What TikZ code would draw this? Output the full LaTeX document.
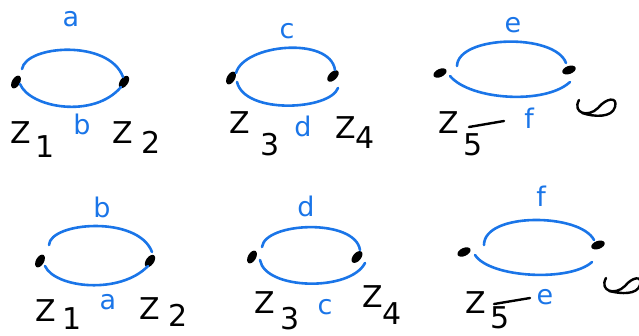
\documentclass[tikz,border=0pt]{standalone}
\usepackage{fontspec}
\setmainfont{DejaVu Sans}
\usetikzlibrary{shapes.geometric,calc}
\definecolor{pen}{HTML}{1A75E8}
\tikzset{
  dot/.style={ellipse, fill=black, minimum width=14pt, minimum height=8pt, inner sep=0pt},
  arc/.style={pen, line width=2.6pt, line cap=round},
  lab/.style={pen, font=\fontsize{27}{27}\selectfont, inner sep=0pt},
  zlab/.style={black, font=\fontsize{30}{30}\selectfont, inner sep=0pt, anchor=base west},
  ink/.style={black, line width=2.4pt, line cap=round, line join=round},
}
% Z with a lowered index: #1 gap, #2 drop, #3 digit
\newcommand{\zsub}[3]{Z\kern#1pt\raisebox{-#2pt}{#3}}
\begin{document}
\begin{tikzpicture}[x=1pt,y=1pt]
\useasboundingbox (0,0) rectangle (639,-335);
% ---------- top row ----------
% panel 1
\node[dot, rotate=60] (p1l) at (16,-82) {};
\node[dot, rotate=55] (p1r) at (124,-82) {};
\draw[arc] ($(p1l)+(6,13)$) .. controls +(4,24) and +(-14,38) .. ($(p1r)+(-1,5)$);
\draw[arc] ($(p1l)+(4,-2)$) .. controls +(10,-24) and +(-27,-32) .. ($(p1r)+(-3,-5)$);
\node[lab] (la1) at (71,-19) {a};
\node[lab] (lb1) at (82,-124) {b};
\node[zlab] (z1) at (10,-143) {\zsub{5}{14}{1}};
\node[zlab] (z2) at (112,-143) {\zsub{9}{10}{2}};
% panel 2
\node[dot, rotate=60] (p2l) at (231,-78) {};
\node[dot, rotate=45] (p2r) at (333,-76) {};
\draw[arc] ($(p2l)+(5,5)$) .. controls +(8,29) and +(-5,34) .. ($(p2r)+(2,6)$);
\draw[arc] ($(p2l)+(6,-4)$) .. controls +(8,-33) and +(-8,-22) .. ($(p2r)+(5,-12)$);
\node[lab] (lc2) at (287,-31) {c};
\node[lab] (ld2) at (303,-126) {d};
\node[zlab] (z3) at (229,-133) {\zsub{11}{22}{3}};
\node[zlab] (z4) at (335,-138) {\zsub{0}{10}{4}};
% panel 3
\node[dot, rotate=25] (p3l) at (440,-73) {};
\node[dot, rotate=20] (p3r) at (569,-70) {};
\draw[arc] ($(p3l)+(17,7)$) .. controls +(1,31) and +(-11,30) .. ($(p3r)+(-3,7)$);
\draw[arc] ($(p3l)+(10,-3)$) .. controls +(20,-24) and +(-25,-23) .. ($(p3r)+(1,-12)$);
\node[lab] (le3) at (513,-25) {e};
\node[lab] (lf3) at (529,-118) {f};
\node[zlab] (z5) at (438,-133) {\zsub{5}{22}{5}};
\coordinate (t3a) at (469,-127);
\coordinate (t3b) at (504,-121);
\draw[ink] (t3a) -- (t3b);
\draw[ink] (579,-100) .. controls (572,-113) and (588,-118) .. (598,-108)
  .. controls (606,-98) and (618,-96) .. (615,-107)
  .. controls (612,-118) and (594,-117) .. (582,-113);
% ---------- bottom row ----------
% panel 4
\node[dot, rotate=60] (p4l) at (40,-261) {};
\node[dot, rotate=55] (p4r) at (150,-261) {};
\draw[arc] ($(p4l)+(9,16)$) .. controls +(1,23) and +(-14,37) .. ($(p4r)+(2,9)$);
\draw[arc] ($(p4l)+(5,-5)$) .. controls +(10,-22) and +(-28,-29) .. ($(p4r)+(-2,-5)$);
\node[lab] (lb4) at (102,-207) {b};
\node[lab] (la4) at (108,-302) {a};
\node[zlab] (z6) at (35,-321) {\zsub{7}{8}{1}};
\node[zlab] (z7) at (139,-319) {\zsub{9}{7}{2}};
% panel 5
\node[dot, rotate=60] (p5l) at (252,-257) {};
\node[dot, rotate=50] (p5r) at (357,-257) {};
\draw[arc] ($(p5l)+(10,10)$) .. controls +(3,25) and +(-5,32) .. ($(p5r)+(3,7)$);
\draw[arc] ($(p5l)+(8,-3)$) .. controls +(5,-30) and +(-15,-29) .. ($(p5r)+(8,-6)$);
\node[lab] (ld5) at (306,-206) {d};
\node[lab] (lc5) at (325,-307) {c};
\node[zlab] (z8) at (254,-313) {\zsub{6}{16}{3}};
\node[zlab] (z9) at (362,-307) {\zsub{0}{17}{4}};
% panel 6
\node[dot, rotate=25] (p6l) at (464,-252) {};
\node[dot, rotate=20] (p6r) at (598,-245) {};
\draw[arc] ($(p6l)+(20,7)$) .. controls +(0,33) and +(-14,27) .. ($(p6r)+(-4,5)$);
\draw[arc] ($(p6l)+(11,-3)$) .. controls +(15,-23) and +(-22,-20) .. ($(p6r)+(-6,-17)$);
\node[lab] (lf6) at (541,-196) {f};
\node[lab] (le6) at (545,-297) {e};
\node[zlab] (z10) at (465,-313) {\zsub{5}{15}{5}};
\coordinate (t6a) at (494,-304);
\coordinate (t6b) at (530,-298);
\draw[ink] (t6a) -- (t6b);
\draw[ink] (606,-278) .. controls (599,-291) and (615,-296) .. (625,-286)
  .. controls (632,-277) and (643,-275) .. (640,-285)
  .. controls (637,-295) and (621,-294) .. (609,-291);
\end{tikzpicture}
\end{document}
